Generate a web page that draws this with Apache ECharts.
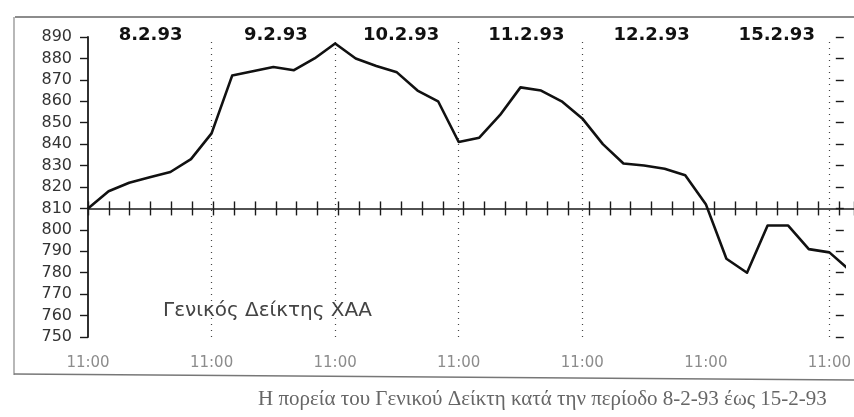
<!DOCTYPE html>
<html>
<head>
<meta charset="utf-8">
<script src="https://cdn.jsdelivr.net/npm/echarts@6/dist/echarts.min.js"></script>
<style>
  html, body { margin: 0; padding: 0; background: #fff; }
  #chart { width: 854px; height: 417px; }
</style>
</head>
<body>
<div id="chart"></div>
<script>
// Trading days shown along the top, one block of six steps per day
const dayLabels = ['8.2.93', '9.2.93', '10.2.93', '11.2.93', '12.2.93', '15.2.93'];
const openTime = '11:00';
const stepsPerDay = 6;

// General index of the Athens Stock Exchange, one reading per step
const indexValues = [
  810, 818, 822, 824.5, 827, 833,
  845, 872, 874, 876, 874.5, 880,
  887, 880, 876.5, 873.5, 865, 860,
  841, 843, 853.5, 866.5, 865, 860,
  852, 840, 831, 830, 828.5, 825.5,
  812, 786.5, 780, 802, 802, 791,
  789.5, 781
];

// Value axis range and the reference level the time axis crosses at
const yMin = 750;
const yMax = 890;
const yStep = 10;
const baseLevel = 810;

// Day boundaries marked with dotted guides
const dayBoundaries = [6, 12, 18, 24, 36];

const seriesName = 'Γενικός Δείκτης ΧΑΑ';
const caption = 'Η πορεία του Γενικού Δείκτη κατά την περίοδο 8-2-93 έως 15-2-93';

// Layout
const W = 854, H = 417;
const plotLeft = 88, plotTop = 37, plotBottomPx = 337;
const xMax = 36.7;           // visible window in steps (line runs off the right edge)
const baseY = plotTop + (yMax - baseLevel) / (yMax - yMin) * (plotBottomPx - plotTop);
const dayAxisRight = W - (plotLeft + stepsPerDay * dayLabels.length * (W - plotLeft) / xMax);

const chart = echarts.init(document.getElementById('chart'), null, { renderer: 'canvas' });

const hiddenValueAxis = (gridIndex) => ({
  gridIndex, type: 'value', show: false, min: 0, max: 1
});

const baseAxis = (inside) => ({
  gridIndex: 1, type: 'value', position: 'bottom',
  min: 0, max: xMax, interval: 1,
  axisLine: { show: !inside, lineStyle: { color: '#1a1a1a', width: 1.6 } },
  axisTick: { show: true, inside, length: 7, lineStyle: { color: '#1a1a1a', width: 1.4 } },
  axisLabel: { show: false },
  splitLine: { show: false }
});

chart.setOption({
  animation: false,
  backgroundColor: '#fff',
  grid: [
    { left: plotLeft, right: 0, top: plotTop, bottom: H - plotBottomPx },
    { left: plotLeft, right: 0, top: plotTop, bottom: H - baseY },
    { left: plotLeft, right: dayAxisRight, top: 50, bottom: 300 }
  ],
  xAxis: [
    {
      gridIndex: 0, type: 'value', min: 0, max: xMax, interval: stepsPerDay,
      axisLine: { show: false }, axisTick: { show: false }, splitLine: { show: false },
      axisLabel: {
        margin: 19, color: '#8c8c8c', fontFamily: 'DejaVu Sans', fontSize: 15,
        formatter: (v) => (v % stepsPerDay === 0 ? openTime : '')
      }
    },
    baseAxis(false),
    baseAxis(true),
    {
      gridIndex: 2, type: 'category', position: 'top', data: dayLabels, boundaryGap: true,
      axisLine: { show: false }, axisTick: { show: false }, splitLine: { show: false },
      axisLabel: {
        margin: 6, color: '#111', fontFamily: 'DejaVu Sans', fontWeight: 'bold', fontSize: 18
      }
    }
  ],
  yAxis: [
    {
      gridIndex: 0, type: 'value', min: yMin, max: yMax, interval: yStep,
      axisLine: { show: true, lineStyle: { color: '#1a1a1a', width: 1.8 } },
      axisTick: { show: true, length: 8, lineStyle: { color: '#1a1a1a', width: 1.4 } },
      axisLabel: { margin: 16, color: '#333', fontFamily: 'DejaVu Sans', fontSize: 16 },
      splitLine: { show: false }
    },
    {
      gridIndex: 0, type: 'value', min: yMin, max: yMax, interval: yStep,
      axisLine: { show: false },
      axisTick: { show: true, inside: true, length: 8, lineStyle: { color: '#1a1a1a', width: 1.4 } },
      axisLabel: { show: false },
      splitLine: { show: false }
    },
    hiddenValueAxis(1),
    hiddenValueAxis(2)
  ],
  series: [
    {
      name: seriesName,
      type: 'line',
      xAxisIndex: 0, yAxisIndex: 0,
      data: indexValues.map((v, i) => [i, v]),
      showSymbol: false,
      clip: true,
      z: 5,
      lineStyle: { color: '#111', width: 2.6, join: 'round' },
      markLine: {
        silent: true,
        symbol: 'none',
        label: { show: false },
        lineStyle: { type: [1, 5], color: '#444', width: 1.2 },
        data: dayBoundaries.map((d) => ({ xAxis: d }))
      }
    }
  ],
  graphic: [
    // outer frame
    { type: 'line', shape: { x1: 15, y1: 17, x2: 854, y2: 17 }, style: { stroke: '#666', lineWidth: 1.4 } },
    { type: 'line', shape: { x1: 14, y1: 17, x2: 14, y2: 375 }, style: { stroke: '#888', lineWidth: 1.2 } },
    { type: 'line', shape: { x1: 14, y1: 374, x2: 854, y2: 380 }, style: { stroke: '#777', lineWidth: 1.4 } },
    // series caption inside the plot
    {
      type: 'text', left: 163, top: 301,
      style: { text: seriesName, fill: '#444', font: '20px "DejaVu Sans"' }
    },
    // figure caption
    {
      type: 'text', left: 258, top: 389,
      style: { text: caption, fill: '#666', font: '21px "Liberation Serif"' }
    }
  ]
});
</script>
</body>
</html>
